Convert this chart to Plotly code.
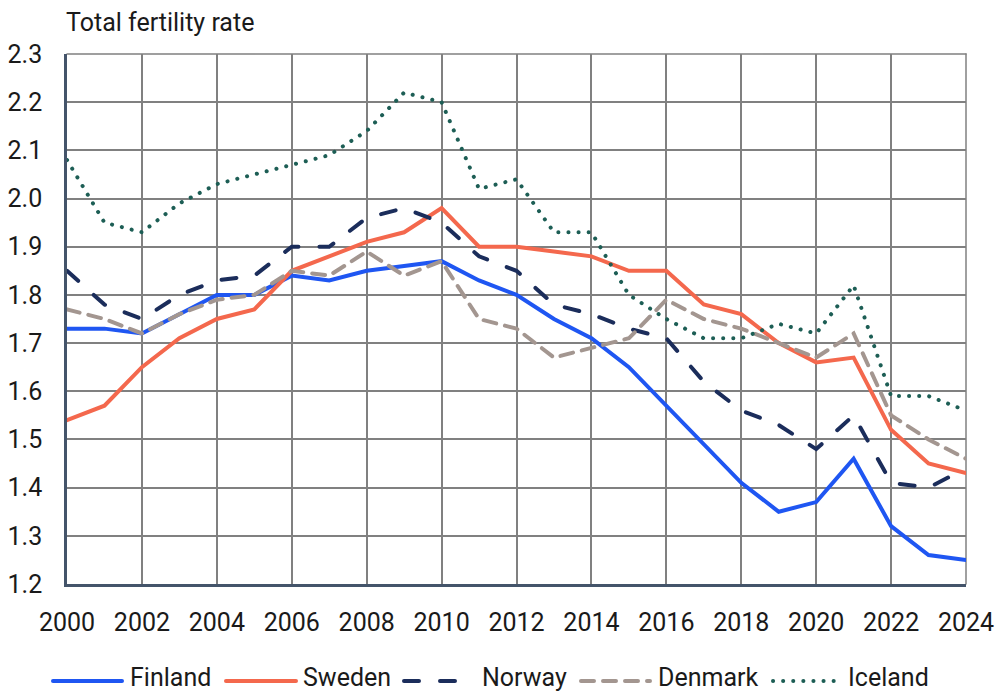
import plotly.graph_objects as go

years = list(range(2000, 2025))

finland = [1.73, 1.73, 1.72, 1.76, 1.80, 1.80, 1.84, 1.83, 1.85, 1.86, 1.87, 1.83, 1.80,
           1.75, 1.71, 1.65, 1.57, 1.49, 1.41, 1.35, 1.37, 1.46, 1.32, 1.26, 1.25]
sweden = [1.54, 1.57, 1.65, 1.71, 1.75, 1.77, 1.85, 1.88, 1.91, 1.93, 1.98, 1.90, 1.90,
          1.89, 1.88, 1.85, 1.85, 1.78, 1.76, 1.70, 1.66, 1.67, 1.52, 1.45, 1.43]
norway = [1.85, 1.78, 1.75, 1.80, 1.83, 1.84, 1.90, 1.90, 1.96, 1.98, 1.95, 1.88, 1.85,
          1.78, 1.76, 1.73, 1.71, 1.62, 1.56, 1.53, 1.48, 1.55, 1.41, 1.40, 1.44]
denmark = [1.77, 1.75, 1.72, 1.76, 1.79, 1.80, 1.85, 1.84, 1.89, 1.84, 1.87, 1.75, 1.73,
           1.67, 1.69, 1.71, 1.79, 1.75, 1.73, 1.70, 1.67, 1.72, 1.55, 1.50, 1.46]
iceland = [2.08, 1.95, 1.93, 1.99, 2.03, 2.05, 2.07, 2.09, 2.14, 2.22, 2.20, 2.02, 2.04,
           1.93, 1.93, 1.80, 1.75, 1.71, 1.71, 1.74, 1.72, 1.82, 1.59, 1.59, 1.56]

x_ticks = list(range(2000, 2025, 2))
y_ticks = [1.2, 1.3, 1.4, 1.5, 1.6, 1.7, 1.8, 1.9, 2.0, 2.1, 2.2, 2.3]

names = ["Finland", "Sweden", "Norway", "Denmark", "Iceland"]
values = [finland, sweden, norway, denmark, iceland]
colors = ["#1f56f2", "#f4684d", "#1b2d5b", "#a39690", "#1d5e55"]
dashes = ["solid", "solid", "15px,21px", "13px,9px", "0.1px,10px"]

# layout geometry (pixels)
W, H = 1003, 694
L, R, T, B = 67, 966, 54, 584
PW, PH = R - L, B - T

def px_x(p):
    return (p - L) / PW

def px_y(p):
    return (B - p) / PH

FONT = "Roboto"
TXT = "#1a1a1a"
fig = go.Figure()
for name, vals, color, dash in zip(names, values, colors, dashes):
    fig.add_trace(go.Scatter(
        x=years, y=vals, mode="lines", name=name, showlegend=False,
        line=dict(color=color, width=4, dash=dash),
    ))

grid = "#808080"
axis_col = "#44546a"

shapes = [
    dict(type="line", xref="paper", yref="paper", x0=0, x1=1, y0=1, y1=1,
         line=dict(color=grid, width=1.5), layer="below"),
    dict(type="line", xref="paper", yref="paper", x0=1, x1=1, y0=0, y1=1,
         line=dict(color=grid, width=1.5), layer="below"),
]
annotations = [
    dict(text="Total fertility rate", xref="paper", yref="paper",
         x=px_x(64), y=px_y(23), xanchor="left", yanchor="middle",
         showarrow=False, font=dict(size=25, color=TXT)),
]

# custom legend (line symbol start/end and text start, in pixels)
leg_items = [(53, 122, 130), (226, 296, 303), (404, 461, 482), (581, 650, 658), (773, 837, 848)]
leg_y = 681
for (x0, x1, xt), name, color, dash in zip(leg_items, names, colors, dashes):
    shapes.append(dict(type="line", xref="paper", yref="paper",
                       x0=px_x(x0), x1=px_x(x1), y0=px_y(leg_y), y1=px_y(leg_y),
                       line=dict(color=color, width=4, dash=dash)))
    annotations.append(dict(text=name, xref="paper", yref="paper",
                            x=px_x(xt - 2), y=px_y(694), xanchor="left", yanchor="bottom",
                            showarrow=False, font=dict(size=25, color=TXT)))

fig.update_layout(
    width=W, height=H,
    paper_bgcolor="white", plot_bgcolor="white",
    margin=dict(l=L, r=W - R, t=T, b=H - B, autoexpand=False),
    font=dict(family=FONT, size=25, color=TXT),
    showlegend=False,
    xaxis=dict(range=[2000, 2024], tickvals=x_ticks, ticktext=[str(v) for v in x_ticks],
               showgrid=True, gridcolor=grid, gridwidth=1.5,
               showline=True, linecolor=axis_col, linewidth=2.5,
               zeroline=False, ticks="", ticklabelstandoff=14, automargin=False,
               tickfont=dict(size=25, color=TXT)),
    yaxis=dict(range=[1.2, 2.3], tickvals=y_ticks, ticktext=[f"{v:.1f}" for v in y_ticks],
               showgrid=True, gridcolor=grid, gridwidth=1.5,
               showline=True, linecolor=axis_col, linewidth=2.5,
               zeroline=False, ticks="", ticklabelstandoff=17, automargin=False,
               tickfont=dict(size=25, color=TXT)),
    shapes=shapes,
    annotations=annotations,
)

post = ("document.body.style.margin='0';document.body.style.overflow='hidden';"
        "document.querySelectorAll('.scatterlayer path.js-line, .shapelayer path')"
        ".forEach(function(p){p.style.strokeLinecap='round';});")
fig.write_html("out.html", post_script=post, config={"displayModeBar": False})
